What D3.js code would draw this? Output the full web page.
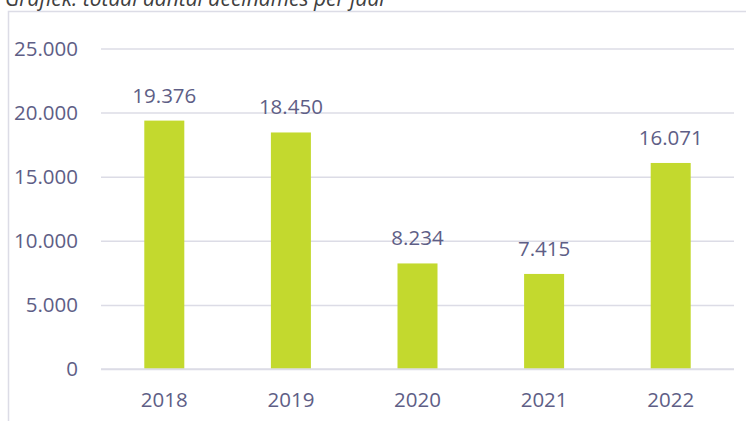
<!DOCTYPE html>
<html><head><meta charset="utf-8">
<script src="https://cdn.jsdelivr.net/npm/d3@7"></script>
<style>html,body{margin:0;padding:0;background:#fff;overflow:hidden}</style>
</head><body>
<svg id="c" width="746" height="421"></svg>
<script>
const titleText = "Grafiek: totaal aantal deelnames per jaar";
const categories = ["2018","2019","2020","2021","2022"];
const values = [19376, 18450, 8234, 7415, 16071];
const yTicks = [0, 5000, 10000, 15000, 20000, 25000];

(function(){
const svg = d3.select("#c");
const W = 746, H = 421;
const mLeft = 101, mRight = 734, mTop = 48.5, mBottom = 369;
const textColor = "#5e5e86";
const gridColor = "#dcdce6";
const barColor = "#c3d92e";
const font = "'Open Sans', sans-serif";
const fs = 20.5;
const fmt = v => d3.format(",")(v).replace(/,/g, ".");

svg.append("path").attr("d", `M8.5,${H} L8.5,11.5 L${W},11.5`)
  .attr("fill","none").attr("stroke", gridColor).attr("stroke-width",1.5);

svg.append("text").attr("x",5).attr("y",6)
  .attr("font-family",font).attr("font-style","italic").attr("font-size",21)
  .attr("fill","#404040").text(titleText);

const x = d3.scaleBand().domain(categories).range([mLeft,mRight])
  .paddingInner(0.684).paddingOuter(0.342);
const y = d3.scaleLinear().domain([0,25000]).range([mBottom, mTop]);

const yAxis = d3.axisLeft(y).tickValues(yTicks).tickSize(-(mRight-mLeft)).tickFormat(fmt).tickPadding(23);
const gy = svg.append("g").attr("transform",`translate(${mLeft},0)`).call(yAxis);
gy.select(".domain").remove();
gy.selectAll(".tick line").attr("stroke",gridColor).attr("stroke-width",1.5);
gy.selectAll(".tick text").attr("font-family",font).attr("font-size",fs).attr("fill",textColor);

svg.append("g").selectAll("rect").data(values).join("rect")
  .attr("x",(d,i)=>x(categories[i])).attr("width",x.bandwidth())
  .attr("y",d=>y(d)).attr("height",d=>y(0)-y(d)).attr("fill",barColor);

svg.append("line").attr("x1",mLeft).attr("x2",mRight).attr("y1",y(0)).attr("y2",y(0))
  .attr("stroke",gridColor).attr("stroke-width",1.5);

const xAxis = d3.axisBottom(x).tickSize(0).tickPadding(23);
const gx = svg.append("g").attr("transform",`translate(0,${mBottom})`).call(xAxis);
gx.select(".domain").remove();
gx.selectAll(".tick text").attr("font-family",font).attr("font-size",fs).attr("fill",textColor);

svg.append("g").selectAll("text").data(values).join("text")
  .attr("x",(d,i)=>x(categories[i])+x.bandwidth()/2).attr("y",d=>y(d)-18)
  .attr("text-anchor","middle").attr("font-family",font).attr("font-size",fs)
  .attr("fill",textColor).text(fmt);
})();
</script>
</body></html>
